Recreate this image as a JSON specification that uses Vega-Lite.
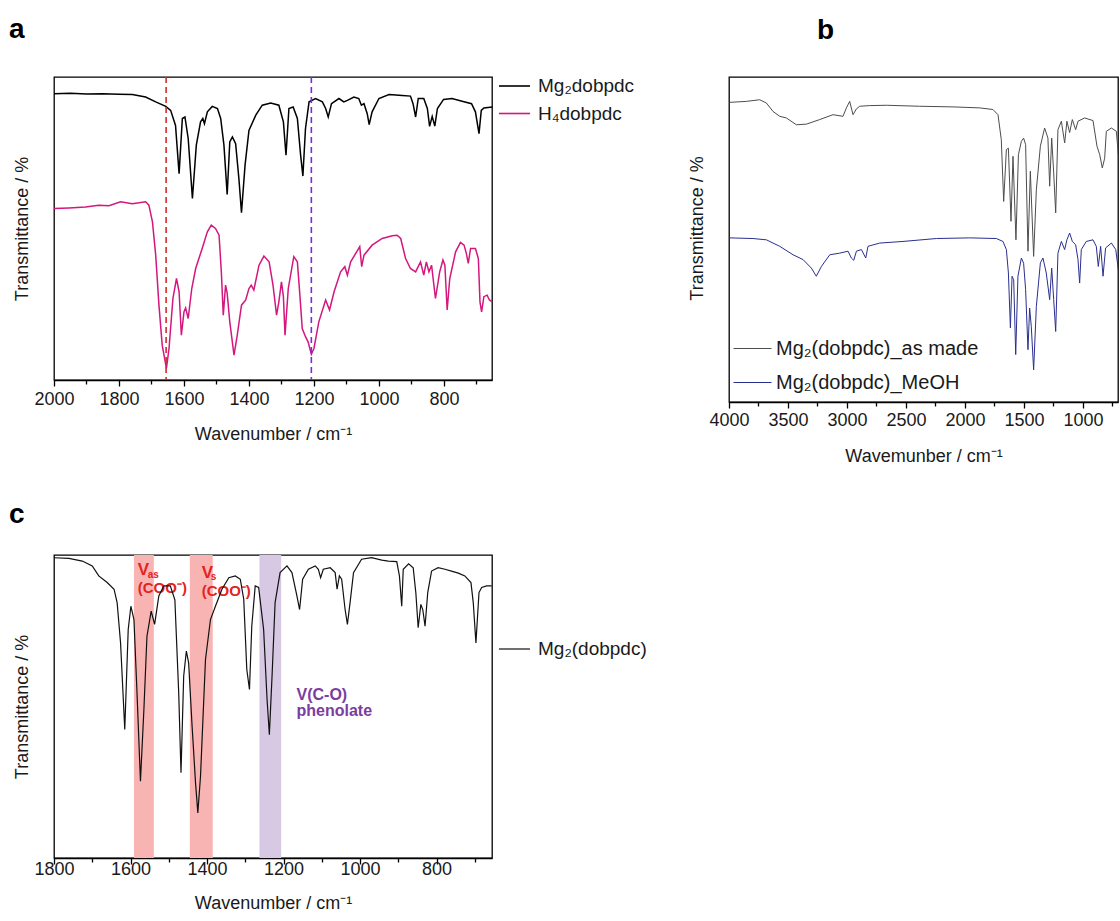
{
 "$schema": "https://vega.github.io/schema/vega-lite/v6.json",
 "background": "#ffffff",
 "padding": {"left": 8, "top": 14, "right": 0, "bottom": 0},
 "config": {
  "font": "Liberation Sans",
  "view": {"stroke": "#000000", "strokeWidth": 1.3},
  "axis": {"grid": false, "labelFont": "Liberation Sans", "titleFont": "Liberation Sans", "labelFontSize": 18, "titleFontSize": 18, "titleFontWeight": "normal", "labelColor": "#1a1a1a", "titleColor": "#1a1a1a", "domainColor": "#000000", "tickColor": "#000000", "domainWidth": 1.3, "tickWidth": 1.3, "labelOverlap": false, "labelFlush": false},
  "axisY": {"labels": false, "ticks": false, "domain": false, "titlePadding": 23},
  "title": {"font": "Liberation Sans", "fontSize": 28, "fontWeight": "bold", "anchor": "start", "frame": "group", "color": "#000000", "baseline": "alphabetic"},
  "legend": {"padding": 0, "labelFont": "Liberation Sans", "labelColor": "#1a1a1a", "symbolType": "stroke", "title": null}
 },
 "datasets": {
  "a": [
   {"wn":2000,"t":94.5,"s":"Mg₂dobpdc"},{"wn":1950,"t":94.6,"s":"Mg₂dobpdc"},{"wn":1900,"t":94.4,"s":"Mg₂dobpdc"},{"wn":1850,"t":94.5,"s":"Mg₂dobpdc"},{"wn":1800,"t":94.3,"s":"Mg₂dobpdc"},{"wn":1759,"t":94.2,"s":"Mg₂dobpdc"},{"wn":1718,"t":93.4,"s":"Mg₂dobpdc"},{"wn":1687,"t":91.8,"s":"Mg₂dobpdc"},{"wn":1656,"t":90.3,"s":"Mg₂dobpdc"},{"wn":1641,"t":89,"s":"Mg₂dobpdc"},{"wn":1626,"t":84,"s":"Mg₂dobpdc"},{"wn":1615,"t":68.1,"s":"Mg₂dobpdc"},{"wn":1605,"t":86.3,"s":"Mg₂dobpdc"},{"wn":1597,"t":86.8,"s":"Mg₂dobpdc"},{"wn":1587,"t":79.7,"s":"Mg₂dobpdc"},{"wn":1574,"t":59.9,"s":"Mg₂dobpdc"},{"wn":1562,"t":77.5,"s":"Mg₂dobpdc"},{"wn":1549,"t":85.2,"s":"Mg₂dobpdc"},{"wn":1542,"t":86.3,"s":"Mg₂dobpdc"},{"wn":1537,"t":84.6,"s":"Mg₂dobpdc"},{"wn":1528,"t":88.5,"s":"Mg₂dobpdc"},{"wn":1513,"t":90.3,"s":"Mg₂dobpdc"},{"wn":1497,"t":89.6,"s":"Mg₂dobpdc"},{"wn":1487,"t":86.3,"s":"Mg₂dobpdc"},{"wn":1477,"t":77.5,"s":"Mg₂dobpdc"},{"wn":1467,"t":61.2,"s":"Mg₂dobpdc"},{"wn":1459,"t":78.6,"s":"Mg₂dobpdc"},{"wn":1451,"t":80.2,"s":"Mg₂dobpdc"},{"wn":1441,"t":78,"s":"Mg₂dobpdc"},{"wn":1431,"t":66.5,"s":"Mg₂dobpdc"},{"wn":1423,"t":55.2,"s":"Mg₂dobpdc"},{"wn":1412,"t":70.9,"s":"Mg₂dobpdc"},{"wn":1400,"t":82.4,"s":"Mg₂dobpdc"},{"wn":1379,"t":87.4,"s":"Mg₂dobpdc"},{"wn":1359,"t":90.7,"s":"Mg₂dobpdc"},{"wn":1333,"t":91.4,"s":"Mg₂dobpdc"},{"wn":1308,"t":90.7,"s":"Mg₂dobpdc"},{"wn":1294,"t":85.2,"s":"Mg₂dobpdc"},{"wn":1286,"t":74.2,"s":"Mg₂dobpdc"},{"wn":1277,"t":89.6,"s":"Mg₂dobpdc"},{"wn":1264,"t":90.1,"s":"Mg₂dobpdc"},{"wn":1251,"t":86.3,"s":"Mg₂dobpdc"},{"wn":1241,"t":74.2,"s":"Mg₂dobpdc"},{"wn":1234,"t":67.3,"s":"Mg₂dobpdc"},{"wn":1226,"t":83,"s":"Mg₂dobpdc"},{"wn":1215,"t":91.8,"s":"Mg₂dobpdc"},{"wn":1195,"t":92.9,"s":"Mg₂dobpdc"},{"wn":1174,"t":91.8,"s":"Mg₂dobpdc"},{"wn":1164,"t":89.6,"s":"Mg₂dobpdc"},{"wn":1156,"t":86.8,"s":"Mg₂dobpdc"},{"wn":1146,"t":91.2,"s":"Mg₂dobpdc"},{"wn":1123,"t":92.9,"s":"Mg₂dobpdc"},{"wn":1108,"t":91.8,"s":"Mg₂dobpdc"},{"wn":1097,"t":92.3,"s":"Mg₂dobpdc"},{"wn":1077,"t":93.4,"s":"Mg₂dobpdc"},{"wn":1062,"t":92.9,"s":"Mg₂dobpdc"},{"wn":1054,"t":90.7,"s":"Mg₂dobpdc"},{"wn":1046,"t":91.2,"s":"Mg₂dobpdc"},{"wn":1036,"t":87.9,"s":"Mg₂dobpdc"},{"wn":1030,"t":84.3,"s":"Mg₂dobpdc"},{"wn":1021,"t":88.5,"s":"Mg₂dobpdc"},{"wn":1000,"t":92.9,"s":"Mg₂dobpdc"},{"wn":969,"t":94.2,"s":"Mg₂dobpdc"},{"wn":928,"t":93.9,"s":"Mg₂dobpdc"},{"wn":903,"t":93.7,"s":"Mg₂dobpdc"},{"wn":895,"t":91.2,"s":"Mg₂dobpdc"},{"wn":887,"t":86.8,"s":"Mg₂dobpdc"},{"wn":879,"t":92.9,"s":"Mg₂dobpdc"},{"wn":862,"t":92.9,"s":"Mg₂dobpdc"},{"wn":851,"t":89.6,"s":"Mg₂dobpdc"},{"wn":844,"t":83.7,"s":"Mg₂dobpdc"},{"wn":836,"t":87,"s":"Mg₂dobpdc"},{"wn":828,"t":83.8,"s":"Mg₂dobpdc"},{"wn":820,"t":89.6,"s":"Mg₂dobpdc"},{"wn":801,"t":92.6,"s":"Mg₂dobpdc"},{"wn":775,"t":92.9,"s":"Mg₂dobpdc"},{"wn":744,"t":92,"s":"Mg₂dobpdc"},{"wn":715,"t":91.2,"s":"Mg₂dobpdc"},{"wn":703,"t":88.5,"s":"Mg₂dobpdc"},{"wn":692,"t":81.3,"s":"Mg₂dobpdc"},{"wn":685,"t":89,"s":"Mg₂dobpdc"},{"wn":677,"t":89.8,"s":"Mg₂dobpdc"},{"wn":651,"t":90.1,"s":"Mg₂dobpdc"},
   {"wn":2000,"t":56.6,"s":"H₄dobpdc"},{"wn":1954,"t":56.8,"s":"H₄dobpdc"},{"wn":1903,"t":57.1,"s":"H₄dobpdc"},{"wn":1862,"t":57.7,"s":"H₄dobpdc"},{"wn":1831,"t":57.5,"s":"H₄dobpdc"},{"wn":1795,"t":58.8,"s":"H₄dobpdc"},{"wn":1759,"t":58.2,"s":"H₄dobpdc"},{"wn":1718,"t":58.8,"s":"H₄dobpdc"},{"wn":1708,"t":57.7,"s":"H₄dobpdc"},{"wn":1697,"t":52.2,"s":"H₄dobpdc"},{"wn":1687,"t":41.2,"s":"H₄dobpdc"},{"wn":1677,"t":24.7,"s":"H₄dobpdc"},{"wn":1667,"t":11.5,"s":"H₄dobpdc"},{"wn":1654,"t":3.8,"s":"H₄dobpdc"},{"wn":1646,"t":10.4,"s":"H₄dobpdc"},{"wn":1634,"t":26.9,"s":"H₄dobpdc"},{"wn":1623,"t":33.5,"s":"H₄dobpdc"},{"wn":1615,"t":29.1,"s":"H₄dobpdc"},{"wn":1608,"t":14.8,"s":"H₄dobpdc"},{"wn":1600,"t":22.5,"s":"H₄dobpdc"},{"wn":1595,"t":23.8,"s":"H₄dobpdc"},{"wn":1587,"t":20.3,"s":"H₄dobpdc"},{"wn":1576,"t":30.2,"s":"H₄dobpdc"},{"wn":1564,"t":36.8,"s":"H₄dobpdc"},{"wn":1544,"t":43.4,"s":"H₄dobpdc"},{"wn":1528,"t":48.9,"s":"H₄dobpdc"},{"wn":1516,"t":51.1,"s":"H₄dobpdc"},{"wn":1503,"t":50,"s":"H₄dobpdc"},{"wn":1492,"t":47.8,"s":"H₄dobpdc"},{"wn":1485,"t":35.7,"s":"H₄dobpdc"},{"wn":1479,"t":21.4,"s":"H₄dobpdc"},{"wn":1472,"t":31.3,"s":"H₄dobpdc"},{"wn":1467,"t":28.6,"s":"H₄dobpdc"},{"wn":1459,"t":19.2,"s":"H₄dobpdc"},{"wn":1446,"t":8.2,"s":"H₄dobpdc"},{"wn":1436,"t":14.8,"s":"H₄dobpdc"},{"wn":1423,"t":24.7,"s":"H₄dobpdc"},{"wn":1410,"t":26.4,"s":"H₄dobpdc"},{"wn":1400,"t":30.2,"s":"H₄dobpdc"},{"wn":1393,"t":31.3,"s":"H₄dobpdc"},{"wn":1385,"t":29.7,"s":"H₄dobpdc"},{"wn":1369,"t":37.9,"s":"H₄dobpdc"},{"wn":1354,"t":40.9,"s":"H₄dobpdc"},{"wn":1338,"t":39,"s":"H₄dobpdc"},{"wn":1326,"t":31.3,"s":"H₄dobpdc"},{"wn":1315,"t":21.4,"s":"H₄dobpdc"},{"wn":1308,"t":25.8,"s":"H₄dobpdc"},{"wn":1300,"t":32.4,"s":"H₄dobpdc"},{"wn":1294,"t":27.5,"s":"H₄dobpdc"},{"wn":1289,"t":14.8,"s":"H₄dobpdc"},{"wn":1279,"t":30.2,"s":"H₄dobpdc"},{"wn":1262,"t":40.7,"s":"H₄dobpdc"},{"wn":1251,"t":39,"s":"H₄dobpdc"},{"wn":1244,"t":29.1,"s":"H₄dobpdc"},{"wn":1236,"t":17,"s":"H₄dobpdc"},{"wn":1226,"t":14.3,"s":"H₄dobpdc"},{"wn":1218,"t":12.6,"s":"H₄dobpdc"},{"wn":1208,"t":8.5,"s":"H₄dobpdc"},{"wn":1200,"t":10.4,"s":"H₄dobpdc"},{"wn":1185,"t":19.2,"s":"H₄dobpdc"},{"wn":1164,"t":26.4,"s":"H₄dobpdc"},{"wn":1152,"t":23.1,"s":"H₄dobpdc"},{"wn":1138,"t":29.1,"s":"H₄dobpdc"},{"wn":1118,"t":35.7,"s":"H₄dobpdc"},{"wn":1105,"t":37.4,"s":"H₄dobpdc"},{"wn":1097,"t":34.6,"s":"H₄dobpdc"},{"wn":1087,"t":39,"s":"H₄dobpdc"},{"wn":1059,"t":44,"s":"H₄dobpdc"},{"wn":1053,"t":37.4,"s":"H₄dobpdc"},{"wn":1046,"t":41.2,"s":"H₄dobpdc"},{"wn":1021,"t":44.5,"s":"H₄dobpdc"},{"wn":990,"t":46.7,"s":"H₄dobpdc"},{"wn":959,"t":47.6,"s":"H₄dobpdc"},{"wn":944,"t":47.8,"s":"H₄dobpdc"},{"wn":933,"t":46.7,"s":"H₄dobpdc"},{"wn":918,"t":40.1,"s":"H₄dobpdc"},{"wn":903,"t":36.8,"s":"H₄dobpdc"},{"wn":887,"t":35.7,"s":"H₄dobpdc"},{"wn":872,"t":39,"s":"H₄dobpdc"},{"wn":862,"t":34.6,"s":"H₄dobpdc"},{"wn":854,"t":39,"s":"H₄dobpdc"},{"wn":846,"t":35.7,"s":"H₄dobpdc"},{"wn":838,"t":37.9,"s":"H₄dobpdc"},{"wn":826,"t":26.9,"s":"H₄dobpdc"},{"wn":813,"t":35.7,"s":"H₄dobpdc"},{"wn":803,"t":39.6,"s":"H₄dobpdc"},{"wn":797,"t":37.9,"s":"H₄dobpdc"},{"wn":790,"t":23.1,"s":"H₄dobpdc"},{"wn":782,"t":33.5,"s":"H₄dobpdc"},{"wn":764,"t":42.3,"s":"H₄dobpdc"},{"wn":749,"t":45.4,"s":"H₄dobpdc"},{"wn":738,"t":44.5,"s":"H₄dobpdc"},{"wn":731,"t":41.8,"s":"H₄dobpdc"},{"wn":725,"t":38.5,"s":"H₄dobpdc"},{"wn":718,"t":43.4,"s":"H₄dobpdc"},{"wn":703,"t":43.4,"s":"H₄dobpdc"},{"wn":694,"t":40.1,"s":"H₄dobpdc"},{"wn":689,"t":25.8,"s":"H₄dobpdc"},{"wn":684,"t":22.5,"s":"H₄dobpdc"},{"wn":677,"t":27.5,"s":"H₄dobpdc"},{"wn":667,"t":28,"s":"H₄dobpdc"},{"wn":660,"t":26.4,"s":"H₄dobpdc"},{"wn":651,"t":25.8,"s":"H₄dobpdc"}
  ],
  "a_red": [{"wn": 1655}],
  "a_purple": [{"wn": 1208}],
  "b": [
   {"wn":3994,"t":92.2,"s":"Mg₂(dobpdc)_as made"},{"wn":3853,"t":92.5,"s":"Mg₂(dobpdc)_as made"},{"wn":3740,"t":93,"s":"Mg₂(dobpdc)_as made"},{"wn":3683,"t":92,"s":"Mg₂(dobpdc)_as made"},{"wn":3627,"t":89.4,"s":"Mg₂(dobpdc)_as made"},{"wn":3570,"t":87.9,"s":"Mg₂(dobpdc)_as made"},{"wn":3514,"t":87.4,"s":"Mg₂(dobpdc)_as made"},{"wn":3429,"t":85.3,"s":"Mg₂(dobpdc)_as made"},{"wn":3344,"t":85.5,"s":"Mg₂(dobpdc)_as made"},{"wn":3231,"t":86.9,"s":"Mg₂(dobpdc)_as made"},{"wn":3119,"t":88.4,"s":"Mg₂(dobpdc)_as made"},{"wn":3034,"t":87.9,"s":"Mg₂(dobpdc)_as made"},{"wn":3005,"t":90.5,"s":"Mg₂(dobpdc)_as made"},{"wn":2977,"t":92.5,"s":"Mg₂(dobpdc)_as made"},{"wn":2949,"t":88.4,"s":"Mg₂(dobpdc)_as made"},{"wn":2920,"t":90.2,"s":"Mg₂(dobpdc)_as made"},{"wn":2892,"t":91,"s":"Mg₂(dobpdc)_as made"},{"wn":2808,"t":91.2,"s":"Mg₂(dobpdc)_as made"},{"wn":2666,"t":91.3,"s":"Mg₂(dobpdc)_as made"},{"wn":2384,"t":91,"s":"Mg₂(dobpdc)_as made"},{"wn":2102,"t":90.8,"s":"Mg₂(dobpdc)_as made"},{"wn":1876,"t":90.5,"s":"Mg₂(dobpdc)_as made"},{"wn":1763,"t":90,"s":"Mg₂(dobpdc)_as made"},{"wn":1720,"t":88.4,"s":"Mg₂(dobpdc)_as made"},{"wn":1692,"t":80.7,"s":"Mg₂(dobpdc)_as made"},{"wn":1672,"t":61.7,"s":"Mg₂(dobpdc)_as made"},{"wn":1649,"t":77.7,"s":"Mg₂(dobpdc)_as made"},{"wn":1632,"t":78.1,"s":"Mg₂(dobpdc)_as made"},{"wn":1610,"t":55.6,"s":"Mg₂(dobpdc)_as made"},{"wn":1593,"t":75.6,"s":"Mg₂(dobpdc)_as made"},{"wn":1568,"t":49.9,"s":"Mg₂(dobpdc)_as made"},{"wn":1547,"t":76.1,"s":"Mg₂(dobpdc)_as made"},{"wn":1522,"t":80.2,"s":"Mg₂(dobpdc)_as made"},{"wn":1503,"t":81.2,"s":"Mg₂(dobpdc)_as made"},{"wn":1486,"t":79.2,"s":"Mg₂(dobpdc)_as made"},{"wn":1466,"t":46.4,"s":"Mg₂(dobpdc)_as made"},{"wn":1446,"t":71,"s":"Mg₂(dobpdc)_as made"},{"wn":1418,"t":44.8,"s":"Mg₂(dobpdc)_as made"},{"wn":1395,"t":65.3,"s":"Mg₂(dobpdc)_as made"},{"wn":1361,"t":78.7,"s":"Mg₂(dobpdc)_as made"},{"wn":1325,"t":84.3,"s":"Mg₂(dobpdc)_as made"},{"wn":1297,"t":81.2,"s":"Mg₂(dobpdc)_as made"},{"wn":1282,"t":66.4,"s":"Mg₂(dobpdc)_as made"},{"wn":1265,"t":81.2,"s":"Mg₂(dobpdc)_as made"},{"wn":1248,"t":70.5,"s":"Mg₂(dobpdc)_as made"},{"wn":1231,"t":58.2,"s":"Mg₂(dobpdc)_as made"},{"wn":1212,"t":83.8,"s":"Mg₂(dobpdc)_as made"},{"wn":1183,"t":86.4,"s":"Mg₂(dobpdc)_as made"},{"wn":1155,"t":79.7,"s":"Mg₂(dobpdc)_as made"},{"wn":1136,"t":86.4,"s":"Mg₂(dobpdc)_as made"},{"wn":1113,"t":82.9,"s":"Mg₂(dobpdc)_as made"},{"wn":1090,"t":86.9,"s":"Mg₂(dobpdc)_as made"},{"wn":1062,"t":83.8,"s":"Mg₂(dobpdc)_as made"},{"wn":1042,"t":86.4,"s":"Mg₂(dobpdc)_as made"},{"wn":986,"t":87.4,"s":"Mg₂(dobpdc)_as made"},{"wn":915,"t":86.6,"s":"Mg₂(dobpdc)_as made"},{"wn":881,"t":78.7,"s":"Mg₂(dobpdc)_as made"},{"wn":858,"t":76.1,"s":"Mg₂(dobpdc)_as made"},{"wn":836,"t":72,"s":"Mg₂(dobpdc)_as made"},{"wn":816,"t":75,"s":"Mg₂(dobpdc)_as made"},{"wn":802,"t":83.3,"s":"Mg₂(dobpdc)_as made"},{"wn":759,"t":84.3,"s":"Mg₂(dobpdc)_as made"},{"wn":717,"t":83.3,"s":"Mg₂(dobpdc)_as made"},{"wn":689,"t":71.5,"s":"Mg₂(dobpdc)_as made"},
   {"wn":3994,"t":50.5,"s":"Mg₂(dobpdc)_MeOH"},{"wn":3797,"t":50.3,"s":"Mg₂(dobpdc)_MeOH"},{"wn":3683,"t":49.9,"s":"Mg₂(dobpdc)_MeOH"},{"wn":3570,"t":47.9,"s":"Mg₂(dobpdc)_MeOH"},{"wn":3457,"t":45.3,"s":"Mg₂(dobpdc)_MeOH"},{"wn":3372,"t":43.8,"s":"Mg₂(dobpdc)_MeOH"},{"wn":3302,"t":41.2,"s":"Mg₂(dobpdc)_MeOH"},{"wn":3260,"t":38.7,"s":"Mg₂(dobpdc)_MeOH"},{"wn":3217,"t":41.7,"s":"Mg₂(dobpdc)_MeOH"},{"wn":3146,"t":45.3,"s":"Mg₂(dobpdc)_MeOH"},{"wn":3062,"t":45.8,"s":"Mg₂(dobpdc)_MeOH"},{"wn":2991,"t":46.4,"s":"Mg₂(dobpdc)_MeOH"},{"wn":2963,"t":44.3,"s":"Mg₂(dobpdc)_MeOH"},{"wn":2943,"t":43.6,"s":"Mg₂(dobpdc)_MeOH"},{"wn":2920,"t":46.4,"s":"Mg₂(dobpdc)_MeOH"},{"wn":2878,"t":46.9,"s":"Mg₂(dobpdc)_MeOH"},{"wn":2841,"t":44.3,"s":"Mg₂(dobpdc)_MeOH"},{"wn":2822,"t":47.9,"s":"Mg₂(dobpdc)_MeOH"},{"wn":2723,"t":48.9,"s":"Mg₂(dobpdc)_MeOH"},{"wn":2525,"t":49.4,"s":"Mg₂(dobpdc)_MeOH"},{"wn":2242,"t":50.3,"s":"Mg₂(dobpdc)_MeOH"},{"wn":1960,"t":50.5,"s":"Mg₂(dobpdc)_MeOH"},{"wn":1734,"t":50.3,"s":"Mg₂(dobpdc)_MeOH"},{"wn":1678,"t":49.4,"s":"Mg₂(dobpdc)_MeOH"},{"wn":1649,"t":46.9,"s":"Mg₂(dobpdc)_MeOH"},{"wn":1632,"t":39.7,"s":"Mg₂(dobpdc)_MeOH"},{"wn":1615,"t":22.8,"s":"Mg₂(dobpdc)_MeOH"},{"wn":1601,"t":38.7,"s":"Mg₂(dobpdc)_MeOH"},{"wn":1587,"t":37.6,"s":"Mg₂(dobpdc)_MeOH"},{"wn":1570,"t":14.6,"s":"Mg₂(dobpdc)_MeOH"},{"wn":1551,"t":38.7,"s":"Mg₂(dobpdc)_MeOH"},{"wn":1522,"t":44.3,"s":"Mg₂(dobpdc)_MeOH"},{"wn":1503,"t":42.7,"s":"Mg₂(dobpdc)_MeOH"},{"wn":1486,"t":34.6,"s":"Mg₂(dobpdc)_MeOH"},{"wn":1466,"t":16.1,"s":"Mg₂(dobpdc)_MeOH"},{"wn":1452,"t":28.9,"s":"Mg₂(dobpdc)_MeOH"},{"wn":1438,"t":23.3,"s":"Mg₂(dobpdc)_MeOH"},{"wn":1418,"t":9.9,"s":"Mg₂(dobpdc)_MeOH"},{"wn":1395,"t":29.4,"s":"Mg₂(dobpdc)_MeOH"},{"wn":1361,"t":42.8,"s":"Mg₂(dobpdc)_MeOH"},{"wn":1339,"t":44.3,"s":"Mg₂(dobpdc)_MeOH"},{"wn":1311,"t":39.7,"s":"Mg₂(dobpdc)_MeOH"},{"wn":1282,"t":31.5,"s":"Mg₂(dobpdc)_MeOH"},{"wn":1265,"t":41.2,"s":"Mg₂(dobpdc)_MeOH"},{"wn":1248,"t":31.5,"s":"Mg₂(dobpdc)_MeOH"},{"wn":1231,"t":21.7,"s":"Mg₂(dobpdc)_MeOH"},{"wn":1212,"t":45.8,"s":"Mg₂(dobpdc)_MeOH"},{"wn":1183,"t":49.4,"s":"Mg₂(dobpdc)_MeOH"},{"wn":1155,"t":46.9,"s":"Mg₂(dobpdc)_MeOH"},{"wn":1136,"t":49.9,"s":"Mg₂(dobpdc)_MeOH"},{"wn":1113,"t":52,"s":"Mg₂(dobpdc)_MeOH"},{"wn":1090,"t":49.4,"s":"Mg₂(dobpdc)_MeOH"},{"wn":1062,"t":48.4,"s":"Mg₂(dobpdc)_MeOH"},{"wn":1042,"t":43.8,"s":"Mg₂(dobpdc)_MeOH"},{"wn":1028,"t":36.6,"s":"Mg₂(dobpdc)_MeOH"},{"wn":1014,"t":46.9,"s":"Mg₂(dobpdc)_MeOH"},{"wn":972,"t":49.4,"s":"Mg₂(dobpdc)_MeOH"},{"wn":915,"t":49.9,"s":"Mg₂(dobpdc)_MeOH"},{"wn":887,"t":47.9,"s":"Mg₂(dobpdc)_MeOH"},{"wn":870,"t":41.7,"s":"Mg₂(dobpdc)_MeOH"},{"wn":850,"t":47.9,"s":"Mg₂(dobpdc)_MeOH"},{"wn":830,"t":38.7,"s":"Mg₂(dobpdc)_MeOH"},{"wn":808,"t":47.4,"s":"Mg₂(dobpdc)_MeOH"},{"wn":759,"t":48.9,"s":"Mg₂(dobpdc)_MeOH"},{"wn":722,"t":46.9,"s":"Mg₂(dobpdc)_MeOH"},{"wn":689,"t":37.6,"s":"Mg₂(dobpdc)_MeOH"}
  ],
  "c": [
   {"wn":1800,"t":99.1,"s":"Mg₂(dobpdc)"},{"wn":1761,"t":98.9,"s":"Mg₂(dobpdc)"},{"wn":1726,"t":98,"s":"Mg₂(dobpdc)"},{"wn":1700,"t":96.4,"s":"Mg₂(dobpdc)"},{"wn":1683,"t":93.1,"s":"Mg₂(dobpdc)"},{"wn":1661,"t":90.9,"s":"Mg₂(dobpdc)"},{"wn":1643,"t":88.7,"s":"Mg₂(dobpdc)"},{"wn":1635,"t":84.3,"s":"Mg₂(dobpdc)"},{"wn":1626,"t":71,"s":"Mg₂(dobpdc)"},{"wn":1615,"t":42.4,"s":"Mg₂(dobpdc)"},{"wn":1606,"t":75.4,"s":"Mg₂(dobpdc)"},{"wn":1599,"t":83.1,"s":"Mg₂(dobpdc)"},{"wn":1591,"t":78.7,"s":"Mg₂(dobpdc)"},{"wn":1583,"t":54.5,"s":"Mg₂(dobpdc)"},{"wn":1574,"t":25.3,"s":"Mg₂(dobpdc)"},{"wn":1565,"t":49,"s":"Mg₂(dobpdc)"},{"wn":1557,"t":73.2,"s":"Mg₂(dobpdc)"},{"wn":1546,"t":81.5,"s":"Mg₂(dobpdc)"},{"wn":1537,"t":77.1,"s":"Mg₂(dobpdc)"},{"wn":1526,"t":86.5,"s":"Mg₂(dobpdc)"},{"wn":1513,"t":89.8,"s":"Mg₂(dobpdc)"},{"wn":1496,"t":89.8,"s":"Mg₂(dobpdc)"},{"wn":1484,"t":85.2,"s":"Mg₂(dobpdc)"},{"wn":1474,"t":54.5,"s":"Mg₂(dobpdc)"},{"wn":1468,"t":28.1,"s":"Mg₂(dobpdc)"},{"wn":1461,"t":60,"s":"Mg₂(dobpdc)"},{"wn":1454,"t":68.3,"s":"Mg₂(dobpdc)"},{"wn":1448,"t":64.4,"s":"Mg₂(dobpdc)"},{"wn":1439,"t":43.5,"s":"Mg₂(dobpdc)"},{"wn":1430,"t":24.8,"s":"Mg₂(dobpdc)"},{"wn":1424,"t":14.9,"s":"Mg₂(dobpdc)"},{"wn":1417,"t":27,"s":"Mg₂(dobpdc)"},{"wn":1404,"t":65.5,"s":"Mg₂(dobpdc)"},{"wn":1391,"t":78.7,"s":"Mg₂(dobpdc)"},{"wn":1378,"t":83.1,"s":"Mg₂(dobpdc)"},{"wn":1361,"t":88.7,"s":"Mg₂(dobpdc)"},{"wn":1343,"t":92.5,"s":"Mg₂(dobpdc)"},{"wn":1326,"t":93.1,"s":"Mg₂(dobpdc)"},{"wn":1313,"t":92,"s":"Mg₂(dobpdc)"},{"wn":1304,"t":85.4,"s":"Mg₂(dobpdc)"},{"wn":1296,"t":62.2,"s":"Mg₂(dobpdc)"},{"wn":1289,"t":55.6,"s":"Mg₂(dobpdc)"},{"wn":1283,"t":76.5,"s":"Mg₂(dobpdc)"},{"wn":1274,"t":89.8,"s":"Mg₂(dobpdc)"},{"wn":1265,"t":89.3,"s":"Mg₂(dobpdc)"},{"wn":1252,"t":75.4,"s":"Mg₂(dobpdc)"},{"wn":1243,"t":52.3,"s":"Mg₂(dobpdc)"},{"wn":1237,"t":40.7,"s":"Mg₂(dobpdc)"},{"wn":1230,"t":60,"s":"Mg₂(dobpdc)"},{"wn":1222,"t":84.3,"s":"Mg₂(dobpdc)"},{"wn":1209,"t":94.2,"s":"Mg₂(dobpdc)"},{"wn":1191,"t":96.4,"s":"Mg₂(dobpdc)"},{"wn":1178,"t":94.2,"s":"Mg₂(dobpdc)"},{"wn":1165,"t":86.5,"s":"Mg₂(dobpdc)"},{"wn":1158,"t":82,"s":"Mg₂(dobpdc)"},{"wn":1150,"t":92,"s":"Mg₂(dobpdc)"},{"wn":1135,"t":95.3,"s":"Mg₂(dobpdc)"},{"wn":1117,"t":96.4,"s":"Mg₂(dobpdc)"},{"wn":1109,"t":95.3,"s":"Mg₂(dobpdc)"},{"wn":1103,"t":92.5,"s":"Mg₂(dobpdc)"},{"wn":1096,"t":95.3,"s":"Mg₂(dobpdc)"},{"wn":1078,"t":95.8,"s":"Mg₂(dobpdc)"},{"wn":1065,"t":94.2,"s":"Mg₂(dobpdc)"},{"wn":1060,"t":88.7,"s":"Mg₂(dobpdc)"},{"wn":1054,"t":93.1,"s":"Mg₂(dobpdc)"},{"wn":1048,"t":92,"s":"Mg₂(dobpdc)"},{"wn":1039,"t":82,"s":"Mg₂(dobpdc)"},{"wn":1033,"t":77.1,"s":"Mg₂(dobpdc)"},{"wn":1026,"t":84.3,"s":"Mg₂(dobpdc)"},{"wn":1017,"t":94.2,"s":"Mg₂(dobpdc)"},{"wn":996,"t":98.6,"s":"Mg₂(dobpdc)"},{"wn":970,"t":99.1,"s":"Mg₂(dobpdc)"},{"wn":943,"t":98.3,"s":"Mg₂(dobpdc)"},{"wn":926,"t":98,"s":"Mg₂(dobpdc)"},{"wn":904,"t":97.8,"s":"Mg₂(dobpdc)"},{"wn":897,"t":93.1,"s":"Mg₂(dobpdc)"},{"wn":891,"t":83.1,"s":"Mg₂(dobpdc)"},{"wn":887,"t":95.3,"s":"Mg₂(dobpdc)"},{"wn":873,"t":97.1,"s":"Mg₂(dobpdc)"},{"wn":861,"t":95.8,"s":"Mg₂(dobpdc)"},{"wn":854,"t":87.4,"s":"Mg₂(dobpdc)"},{"wn":848,"t":76,"s":"Mg₂(dobpdc)"},{"wn":841,"t":83.7,"s":"Mg₂(dobpdc)"},{"wn":836,"t":82,"s":"Mg₂(dobpdc)"},{"wn":830,"t":76.5,"s":"Mg₂(dobpdc)"},{"wn":823,"t":87.6,"s":"Mg₂(dobpdc)"},{"wn":813,"t":94.7,"s":"Mg₂(dobpdc)"},{"wn":796,"t":95.8,"s":"Mg₂(dobpdc)"},{"wn":778,"t":95.3,"s":"Mg₂(dobpdc)"},{"wn":761,"t":94.7,"s":"Mg₂(dobpdc)"},{"wn":743,"t":94,"s":"Mg₂(dobpdc)"},{"wn":726,"t":93.1,"s":"Mg₂(dobpdc)"},{"wn":710,"t":90.9,"s":"Mg₂(dobpdc)"},{"wn":704,"t":84.3,"s":"Mg₂(dobpdc)"},{"wn":697,"t":71,"s":"Mg₂(dobpdc)"},{"wn":689,"t":87.6,"s":"Mg₂(dobpdc)"},{"wn":682,"t":89.3,"s":"Mg₂(dobpdc)"},{"wn":669,"t":89.8,"s":"Mg₂(dobpdc)"},{"wn":656,"t":89.8,"s":"Mg₂(dobpdc)"}
  ],
  "c_red_bands": [{"wn": 1591, "wn2": 1539}, {"wn": 1445, "wn2": 1385}],
  "c_purple_band": [{"wn": 1263, "wn2": 1206}],
  "c_red_big": [{"wn": 1581, "t": 93.4, "label": "V"}, {"wn": 1414, "t": 92.4, "label": "V"}],
  "c_red_sub": [{"wn": 1555, "t": 92.4, "label": "as"}, {"wn": 1390, "t": 91.7, "label": "s"}],
  "c_red_coo": [{"wn": 1581, "t": 87.5, "label": "(COO⁻)"}, {"wn": 1414, "t": 86.5, "label": "(COO⁻)"}],
  "c_purple_text": [{"wn": 1166, "t": 52.1, "label": "V(C-O)"}, {"wn": 1166, "t": 46.9, "label": "phenolate"}]
 },
 "concat": [
  {
   "width": 438, "height": 303,
   "title": {"text": "a", "dx": -45, "offset": 26},
   "encoding": {
    "x": {"field": "wn", "type": "quantitative", "scale": {"domain": [652, 2000], "reverse": true, "nice": false, "zero": false},
          "axis": {"title": "Wavenumber / cm⁻¹", "values": [2000,1900,1800,1700,1600,1500,1400,1300,1200,1100,1000,900,800,700], "format": "d", "labelExpr": "datum.value % 200 === 0 ? datum.label : ''", "tickSize": {"condition": {"test": "datum.value % 200 === 0", "value": 6}, "value": 4}, "labelPadding": 4, "titlePadding": 17}}
   },
   "layer": [
    {
     "data": {"name": "a"},
     "mark": {"type": "line", "strokeWidth": 1.5},
     "encoding": {
      "y": {"field": "t", "type": "quantitative", "scale": {"domain": [0, 100], "nice": false}, "axis": {"title": "Transmittance / %"}},
      "color": {"field": "s", "type": "nominal", "sort": null, "scale": {"domain": ["Mg₂dobpdc", "H₄dobpdc"], "range": ["#000000", "#d4177e"]},
                "legend": {"orient": "none", "legendX": 444, "legendY": -7.5, "symbolSize": 961, "symbolStrokeWidth": 1.6, "labelFontSize": 19, "labelOffset": 7, "rowPadding": 0.5}}
     }
    },
    {
     "data": {"name": "a_red"},
     "mark": {"type": "rule", "color": "#d42a2a", "strokeDash": [6, 4], "strokeWidth": 1.6},
     "encoding": {}
    },
    {
     "data": {"name": "a_purple"},
     "mark": {"type": "rule", "color": "#7a2be0", "strokeDash": [6, 4], "strokeWidth": 1.6},
     "encoding": {}
    }
   ]
  },
  {
   "width": 389, "height": 325,
   "title": {"text": "b", "dx": 88, "offset": 32},
   "data": {"name": "b"},
   "mark": {"type": "line", "strokeWidth": 1, "clip": true},
   "encoding": {
    "x": {"field": "wn", "type": "quantitative", "scale": {"domain": [703, 4000], "reverse": true, "nice": false, "zero": false},
          "axis": {"title": "Wavemunber / cm⁻¹", "values": [4000,3750,3500,3250,3000,2750,2500,2250,2000,1750,1500,1250,1000,750], "format": "d", "labelExpr": "datum.value % 500 === 0 ? datum.label : ''", "tickSize": {"condition": {"test": "datum.value % 500 === 0", "value": 6}, "value": 4}, "labelPadding": 3, "titlePadding": 18}},
    "y": {"field": "t", "type": "quantitative", "scale": {"domain": [0, 100], "nice": false}, "axis": {"title": "Transmittance / %", "titleY": 151}},
    "color": {"field": "s", "type": "nominal", "sort": null, "scale": {"domain": ["Mg₂(dobpdc)_as made", "Mg₂(dobpdc)_MeOH"], "range": ["#4d4d4d", "#2a2f8f"]},
              "legend": {"orient": "none", "legendX": 4, "legendY": 252, "symbolSize": 1444, "symbolStrokeWidth": 1, "labelFontSize": 20, "labelOffset": 4, "rowPadding": 4, "labelLimit": 300}}
   }
  },
  {
   "width": 438, "height": 303,
   "title": {"text": "c", "dx": -45, "offset": 26},
   "encoding": {
    "x": {"field": "wn", "type": "quantitative", "scale": {"domain": [655, 1800], "reverse": true, "nice": false, "zero": false},
          "axis": {"title": "Wavenumber / cm⁻¹", "values": [1800,1700,1600,1500,1400,1300,1200,1100,1000,900,800,700], "format": "d", "labelExpr": "datum.value % 200 === 0 ? datum.label : ''", "tickSize": {"condition": {"test": "datum.value % 200 === 0", "value": 6}, "value": 4}, "labelPadding": -4, "titlePadding": 16}}
   },
   "layer": [
    {
     "data": {"name": "c_red_bands"},
     "mark": {"type": "rect", "color": "#f8b4b3"},
     "encoding": {"x2": {"field": "wn2"}}
    },
    {
     "data": {"name": "c_purple_band"},
     "mark": {"type": "rect", "color": "#d7c9e4"},
     "encoding": {"x2": {"field": "wn2"}}
    },
    {
     "data": {"name": "c_red_big"},
     "mark": {"type": "text", "align": "left", "baseline": "alphabetic", "font": "Liberation Sans", "fontWeight": "bold", "fontSize": 17, "color": "#e3231f"},
     "encoding": {"y": {"field": "t", "type": "quantitative"}, "text": {"field": "label"}}
    },
    {
     "data": {"name": "c_red_sub"},
     "mark": {"type": "text", "align": "left", "baseline": "alphabetic", "font": "Liberation Sans", "fontWeight": "bold", "fontSize": 10, "color": "#e3231f"},
     "encoding": {"y": {"field": "t", "type": "quantitative"}, "text": {"field": "label"}}
    },
    {
     "data": {"name": "c_red_coo"},
     "mark": {"type": "text", "align": "left", "baseline": "alphabetic", "font": "Liberation Sans", "fontWeight": "bold", "fontSize": 15, "color": "#e3231f"},
     "encoding": {"y": {"field": "t", "type": "quantitative"}, "text": {"field": "label"}}
    },
    {
     "data": {"name": "c_purple_text"},
     "mark": {"type": "text", "align": "left", "baseline": "alphabetic", "font": "Liberation Sans", "fontWeight": "bold", "fontSize": 16, "color": "#7b3d9e"},
     "encoding": {"y": {"field": "t", "type": "quantitative"}, "text": {"field": "label"}}
    },
    {
     "data": {"name": "c"},
     "mark": {"type": "line", "strokeWidth": 1.2},
     "encoding": {
      "y": {"field": "t", "type": "quantitative", "scale": {"domain": [0, 100], "nice": false}, "axis": {"title": "Transmittance / %"}},
      "color": {"field": "s", "type": "nominal", "scale": {"domain": ["Mg₂(dobpdc)"], "range": ["#111111"]},
                "legend": {"orient": "none", "legendX": 444, "legendY": 77.5, "symbolSize": 961, "symbolStrokeWidth": 1.2, "labelFontSize": 19, "labelOffset": 7}}
     }
    }
   ]
  }
 ],
 "columns": 2,
 "spacing": {"row": 153, "column": 237},
 "bounds": "flush",
 "align": "each",
 "resolve": {"scale": {"color": "independent", "x": "independent", "y": "independent"}, "legend": {"color": "independent"}}
}
